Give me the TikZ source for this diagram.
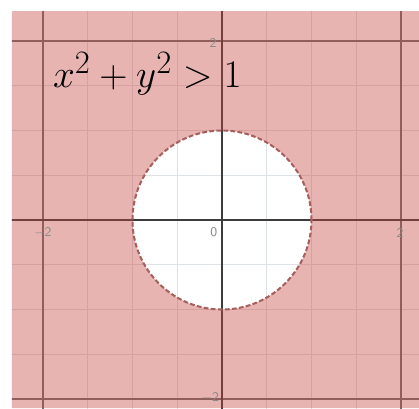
\documentclass[tikz,border=0pt]{standalone}
\usepackage{tikz}
\usetikzlibrary{arrows.meta,positioning}
\definecolor{desred}{HTML}{C74440}
\definecolor{desminor}{HTML}{DDE2E6}
\definecolor{desmajor}{HTML}{707070}
\definecolor{desaxis}{HTML}{3C3C3C}
\definecolor{destick}{HTML}{8A8A8A}
\tikzset{
  minorgrid/.style={draw=desminor,line width=0.6pt},
  majorgrid/.style={draw=desmajor,line width=0.9pt},
  axisline/.style={draw=desaxis,line width=1pt},
  shaded/.style={fill=desred,fill opacity=0.4,even odd rule},
  boundary/.style={draw=desred!55!gray,line width=1.3pt,dash pattern=on 3pt off 1.5pt},
  ticklbl/.style={font=\sffamily\fontsize{8.5}{9}\selectfont,text=destick,inner sep=0pt},
  ineq/.style={font=\fontsize{27.5}{32}\selectfont,inner sep=0pt},
}
\begin{document}
\begin{tikzpicture}[x=2cm,y=2cm]
  \useasboundingbox (-2.480,-2.101) rectangle (2.201,2.458);
  \begin{scope}
    \clip (-2.346,-2.101) rectangle (2.201,2.335);
    \fill[white] (-2.346,-2.101) rectangle (2.201,2.335);
    % grid
    \foreach \t in {-2.5,-1.5,...,2.5,-1,1} {
      \draw[minorgrid] (\t,-2.2) -- (\t,2.4);
      \draw[minorgrid] (-2.4,\t) -- (2.3,\t);
    }
    \foreach \t in {-2,2} {
      \draw[majorgrid] (\t,-2.2) -- (\t,2.4);
      \draw[majorgrid] (-2.4,\t) -- (2.3,\t);
    }
    \draw[axisline] (0,-2.2) -- (0,2.4);
    \draw[axisline] (-2.4,0) -- (2.3,0);
    % region outside the unit circle
    \path[shaded] (-2.346,-2.101) rectangle (2.201,2.335) (0,0) circle (1);
    \draw[boundary] (0,0) circle (1);
  \end{scope}
  \node[ticklbl] (ytop) at (-0.10,1.98) {2};
  \node[ticklbl] (xleft) at (-2.0,-0.14) {$-$2};
  \node[ticklbl] (orig) at (-0.09,-0.13) {0};
  \node[ticklbl] (xright) at (1.99,-0.14) {2};
  \node[ticklbl] (ybot) at (-0.13,-1.98) {$-$2};
  \node[ineq,anchor=base west] (ineqlbl) at (-1.89,1.48) {$x^2+y^2>1$};
\end{tikzpicture}
\end{document}
